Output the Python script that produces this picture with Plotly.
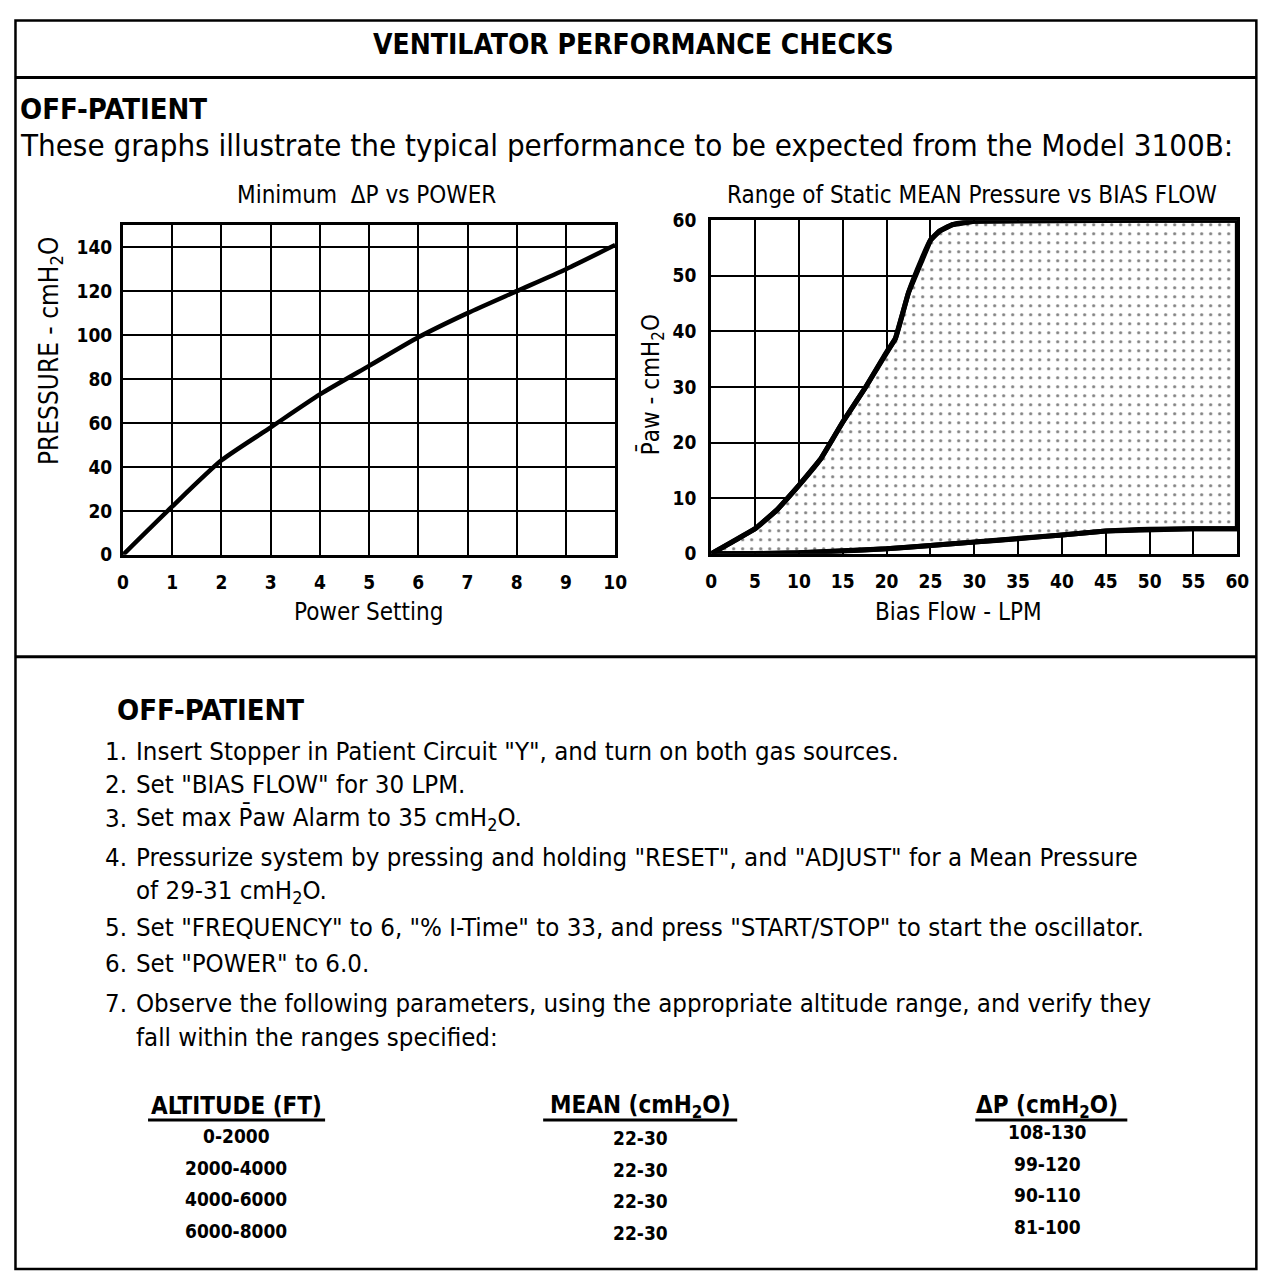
import plotly.graph_objects as go

# ---------------- data ----------------
power_setting = [0, 1, 2, 3, 4, 5, 6, 7, 8, 9, 10]
min_delta_p = [0, 22, 43, 58, 73, 86, 99, 110, 120, 130, 141]

upper_flow = [0, 2.5, 5, 7.5, 10, 12.5, 15, 17.5, 20, 21, 22.5, 24, 25, 26, 27.5, 30, 40, 50, 60]
upper_paw = [0, 2.2, 4.5, 7.9, 12.3, 17.1, 23.7, 29.7, 36.3, 38.7, 47, 53, 56.4, 58, 59.2, 59.8, 60, 60, 60]
lower_flow = [0, 5, 10, 15, 20, 25, 30, 35, 40, 45, 47.5, 50, 55, 60]
lower_paw = [0, 0.05, 0.2, 0.5, 0.9, 1.5, 2.1, 2.7, 3.4, 4.1, 4.3, 4.4, 4.5, 4.5]

steps = [
    "Insert Stopper in Patient Circuit \"Y\", and turn on both gas sources.",
    "Set \"BIAS FLOW\" for 30 LPM.",
    "Set max P\u0304aw Alarm to 35 cmH<sub>2</sub>O.",
    "Pressurize system by pressing and holding \"RESET\", and \"ADJUST\" for a Mean Pressure",
    "Set \"FREQUENCY\" to 6, \"% I-Time\" to 33, and press \"START/STOP\" to start the oscillator.",
    "Set \"POWER\" to 6.0.",
    "Observe the following parameters, using the appropriate altitude range, and verify they",
]
step_cont = {3: "of 29-31 cmH<sub>2</sub>O.", 6: "fall within the ranges specified:"}

table_headers = ["ALTITUDE (FT)", "MEAN (cmH<sub>2</sub>O)", "\u0394P (cmH<sub>2</sub>O)"]
altitude = ["0-2000", "2000-4000", "4000-6000", "6000-8000"]
mean_range = ["22-30", "22-30", "22-30", "22-30"]
dp_range = ["108-130", "99-120", "90-110", "81-100"]

# ---------------- layout helpers ----------------
W, H = 1266, 1274
AX, SX = 14.0, 0.9855   # observed placement of the page in the photograph
AY, SY = 16.5, 0.984
FONT = "DejaVu Sans Condensed, Liberation Sans Narrow, Arial Narrow, sans-serif"


def px(x):
    f = (x - AX) / SX
    return min(max(f, 1.5), W - 1.5) / W


def py(y):
    f = (y - AY) / SY
    return 1 - min(max(f, 1.5), H - 1.5) / H


fig = go.Figure()

# Left chart
fig.add_trace(go.Scatter(x=power_setting, y=min_delta_p, mode="lines",
                         line=dict(color="black", width=4.5, shape="spline", smoothing=0.6),
                         xaxis="x", yaxis="y", showlegend=False, hoverinfo="skip"))

# Right chart: shaded region (upper curve forward, lower curve back)
poly_x = upper_flow + lower_flow[::-1]
poly_y = upper_paw + lower_paw[::-1]
fig.add_trace(go.Scatter(x=poly_x, y=poly_y, mode="lines", fill="toself",
                         fillcolor="white",
                         fillpattern=dict(shape=".", fgcolor="black", bgcolor="white",
                                          size=9, solidity=0.1),
                         line=dict(color="black", width=5),
                         xaxis="x2", yaxis="y2", showlegend=False, hoverinfo="skip"))
for fx, fy in [(upper_flow, upper_paw), (lower_flow, lower_paw)]:
    fig.add_trace(go.Scatter(x=fx, y=fy, mode="lines",
                             line=dict(color="black", width=5, shape="spline", smoothing=0.5),
                             xaxis="x2", yaxis="y2", showlegend=False, hoverinfo="skip"))

axis_common = dict(showline=True, linecolor="black", linewidth=3, mirror=True,
                   showgrid=True, gridcolor="black", gridwidth=2, zeroline=False,
                   ticks="", tickfont=dict(family=FONT, size=19, color="black", weight="bold"),
                   fixedrange=True)

fig.update_layout(
    width=W, height=H,
    margin=dict(l=0, r=0, t=0, b=0),
    paper_bgcolor="white", plot_bgcolor="white",
    font=dict(family=FONT, color="black"),
    xaxis=dict(domain=[px(123), px(615)], range=[0, 10], dtick=1, anchor="y",
               ticklabelstandoff=8, **axis_common),
    yaxis=dict(domain=[py(553), py(223)], range=[0, 150], tickvals=[0, 20, 40, 60, 80, 100, 120, 140],
               anchor="x", ticklabelstandoff=4, **axis_common),
    xaxis2=dict(domain=[px(711), px(1237)], range=[0, 60], dtick=5, anchor="y2",
                ticklabelstandoff=8, **axis_common),
    yaxis2=dict(domain=[py(552), py(218)], range=[0, 60], dtick=10, anchor="x2",
                ticklabelstandoff=8, **axis_common),
)

annotations = []


def txt(x, y, text, size=22, bold=False, xanchor="left", angle=0):
    if bold:
        text = "<b>" + text + "</b>"
    annotations.append(dict(x=px(x), y=py(y), xref="paper", yref="paper", text=text,
                            showarrow=False, xanchor=xanchor, yanchor="middle",
                            textangle=angle,
                            font=dict(family=FONT, size=size, color="black")))


# Header
txt(633, 42, "VENTILATOR PERFORMANCE CHECKS", size=28, bold=True, xanchor="center")
txt(18, 107, "OFF-PATIENT", size=29, bold=True)
txt(18, 143, "These graphs illustrate the typical performance to be expected from the Model 3100B:", size=31)

# Chart titles & axis titles
txt(366, 193, "Minimum  \u0394P vs POWER", size=24, xanchor="center")
txt(972, 193, "Range of Static MEAN Pressure vs BIAS FLOW", size=24, xanchor="center")
txt(50, 349, "PRESSURE - cmH<sub>2</sub>O", size=26, xanchor="center", angle=-90)
txt(651, 383, "P\u0304aw - cmH<sub>2</sub>O", size=24, xanchor="center", angle=-90)
txt(368, 610, "Power Setting", size=24, xanchor="center")
txt(958, 610, "Bias Flow - LPM", size=24, xanchor="center")

# Lower section
txt(115, 708, "OFF-PATIENT", size=29, bold=True)
step_y = [749, 782, 817, 856, 926, 962, 1002]
cont_y = {3: 890, 6: 1036}
for i, s in enumerate(steps):
    txt(129, step_y[i], f"{i + 1}.", size=25.6, xanchor="right")
    txt(134, step_y[i], s, size=25.6)
    if i in step_cont:
        txt(134, cont_y[i], step_cont[i], size=25.6)

col_x = [236, 640, 1047]
for cx, h in zip(col_x, table_headers):
    txt(cx, 1105, h, size=24, bold=True, xanchor="center")
row_y = [1135, 1167, 1198, 1230]
for k in range(4):
    txt(col_x[0], row_y[k], altitude[k], size=19, bold=True, xanchor="center")
    txt(col_x[1], row_y[k] + 2, mean_range[k], size=19, bold=True, xanchor="center")
    txt(col_x[2], row_y[k] - 4, dp_range[k], size=19, bold=True, xanchor="center")

fig.update_layout(annotations=annotations)

# Frame and separators
shapes = [
    dict(type="rect", xref="paper", yref="paper", x0=px(8), x1=px(1256), y0=py(1268), y1=py(10),
         line=dict(color="black", width=2.5)),
    dict(type="line", xref="paper", yref="paper", x0=px(8), x1=px(1256), y0=py(75), y1=py(75),
         line=dict(color="black", width=3)),
    dict(type="line", xref="paper", yref="paper", x0=px(8), x1=px(1256), y0=py(655), y1=py(655),
         line=dict(color="black", width=3)),
]
for x0, x1 in [(148, 325), (543, 737), (975, 1127)]:
    shapes.append(dict(type="line", xref="paper", yref="paper", x0=px(x0), x1=px(x1),
                       y0=py(1119), y1=py(1119), line=dict(color="black", width=3)))
fig.update_layout(shapes=shapes)

fig.write_html("out.html")
